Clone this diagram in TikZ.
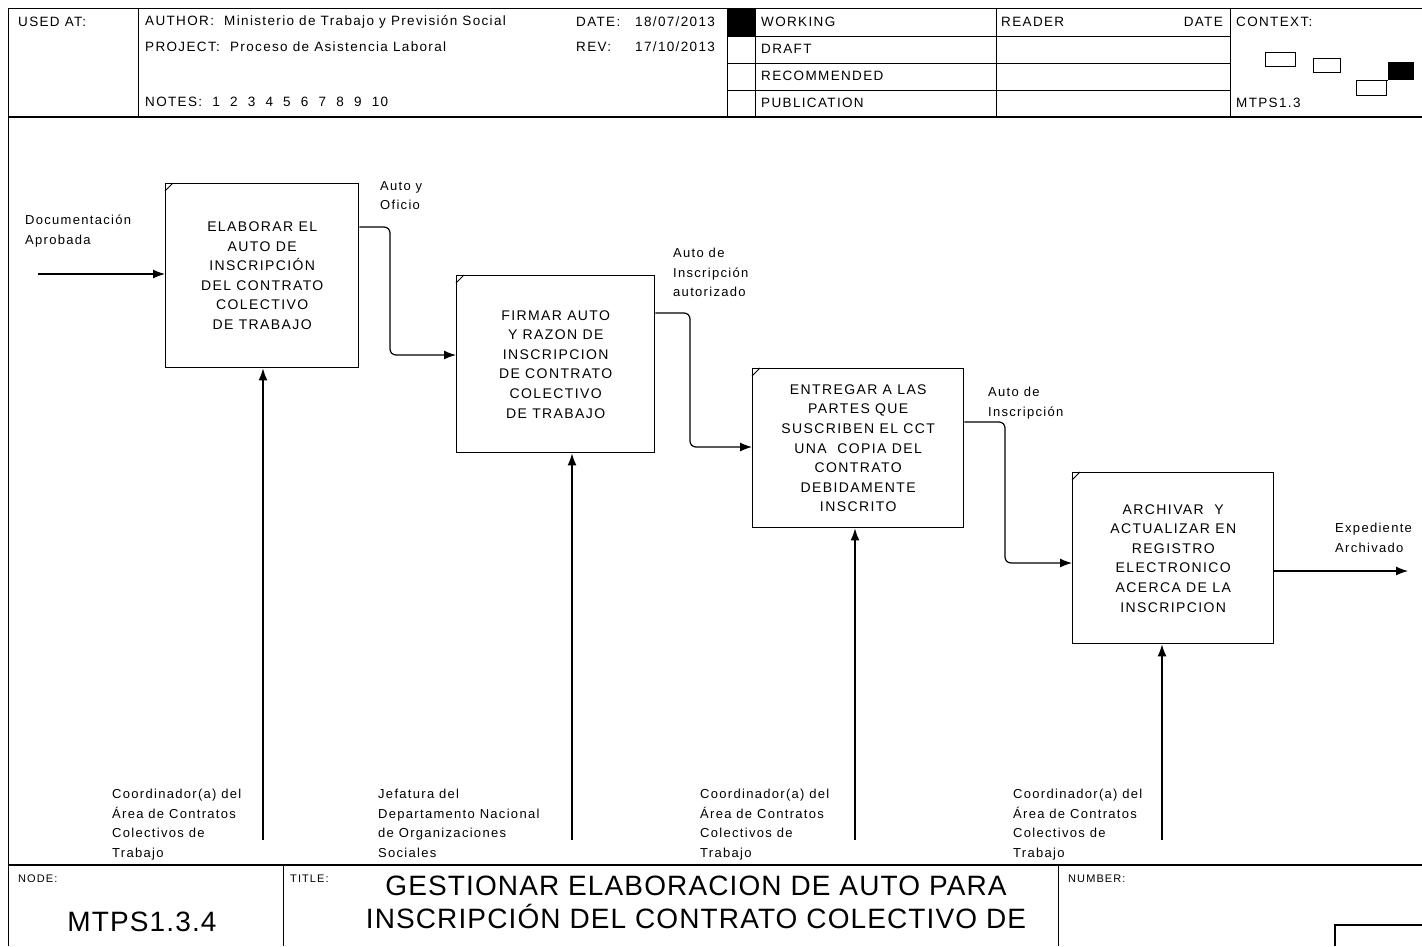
\documentclass[tikz,border=0pt]{standalone}
\usepackage{fontspec}
\setmainfont{Liberation Sans}
\newfontfamily\widesans{Liberation Sans}[LetterSpace=10]
\newfontfamily\titlesans{Liberation Sans}[LetterSpace=4]
\usetikzlibrary{arrows.meta,calc}

\begin{document}
\begin{tikzpicture}[x=1pt,y=-1pt,
  rule/.style={line width=0.9pt},
  heavy/.style={line width=1.8pt},
  hdr/.style={font=\widesans\fontsize{13.5}{16}\selectfont, inner sep=0, anchor=west},
  tiny/.style={font=\widesans\fontsize{11}{13}\selectfont, inner sep=0, anchor=north west},
  proc/.style={draw, line width=1.4pt, anchor=north west, align=center,
    inner sep=0, font=\widesans\fontsize{14}{19.6}\selectfont},
  lbl/.style={font=\widesans\fontsize{13}{19.5}\selectfont, align=left, inner sep=0, anchor=north west},
  flow/.style={line width=1.2pt, rounded corners=6pt, -{Latex[length=12pt,width=9pt]}},
  corner/.style={line width=0.8pt}
]
\useasboundingbox (0,0) rectangle (1422,946);

% ---------- header block ----------
\draw[rule] (1422,8) -- (8,8) -- (8,946);
\draw[heavy] (8,117) -- (1422,117);
\draw[rule] (138,8) -- (138,117);
\draw[rule] (727,8) -- (727,117);
\draw[rule] (755,8) -- (755,117);
\draw[rule] (996,8) -- (996,117);
\draw[rule] (1230,8) -- (1230,117);
\foreach \yy in {36,63,90} \draw[rule] (727,\yy) -- (1230,\yy);
\fill (727,8) rectangle (755,36);

\node[hdr] (usedat) at (18,22) {USED AT:};
\node[hdr] (author) at (145,22) {AUTHOR:\ \ Ministerio de Trabajo y Previsión Social};
\node[hdr] (project) at (145,47) {PROJECT:\ \ Proceso de Asistencia Laboral};
\node[hdr] (notes) at (145,102) {NOTES:\ \ 1\ \ 2\ \ 3\ \ 4\ \ 5\ \ 6\ \ 7\ \ 8\ \ 9\ \ 10};
\node[hdr] (datek) at (576,22) {DATE:};
\node[hdr] (datev) at (635,22) {18/07/2013};
\node[hdr] (revk) at (576,47) {REV:};
\node[hdr] (revv) at (635,47) {17/10/2013};
\node[hdr] (working) at (761,22) {WORKING};
\node[hdr] (draft) at (761,49) {DRAFT};
\node[hdr] (recom) at (761,76) {RECOMMENDED};
\node[hdr] (publ) at (761,103) {PUBLICATION};
\node[hdr] (reader) at (1001,22) {READER};
\node[hdr, anchor=east] (rdate) at (1223,22) {DATE};
\node[hdr] (context) at (1236,22) {CONTEXT:};
\node[hdr] (ctxnode) at (1236,103) {MTPS1.3};

% context sketch
\draw[line width=1pt] (1265,52) rectangle (1295,66);
\draw[line width=1pt] (1313,58) rectangle (1340,72);
\fill (1388,62) rectangle (1414,80);
\draw[line width=1pt] (1356,80) rectangle (1386,95);
\draw[line width=1pt] (1386,80) -- (1388,80);

% ---------- activity boxes ----------
\node[proc, minimum width=193pt, minimum height=184pt] (b1) at (165,183)
  {ELABORAR EL\\AUTO DE\\INSCRIPCIÓN\\DEL CONTRATO\\COLECTIVO\\DE TRABAJO};
\node[proc, minimum width=198pt, minimum height=177pt] (b2) at (456,275)
  {FIRMAR AUTO\\Y RAZON DE\\INSCRIPCION\\DE CONTRATO\\COLECTIVO\\DE TRABAJO};
\node[proc, minimum width=211pt, minimum height=159pt] (b3) at (752,368)
  {ENTREGAR A LAS\\PARTES QUE\\SUSCRIBEN EL CCT\\UNA\ \ COPIA DEL\\CONTRATO\\DEBIDAMENTE\\INSCRITO};
\node[proc, minimum width=201pt, minimum height=171pt] (b4) at (1072,472)
  {ARCHIVAR\ \ Y\\ACTUALIZAR EN\\REGISTRO\\ELECTRONICO\\ACERCA DE LA\\INSCRIPCION};

\foreach \b in {b1,b2,b3,b4}
  \draw[corner] ($(\b.north west)+(0,8)$) -- ($(\b.north west)+(8,0)$);

% ---------- inputs / outputs ----------
\coordinate (src) at (38,274);
\coordinate (sink) at (1408,571);
\draw[flow] (src) -- (b1.west |- src);
\draw[flow] (b1.east |- 0,227) -- (390,227) -- (390,355) -- (b2.west |- 0,355);
\draw[flow] (b2.east |- 0,313) -- (690,313) -- (690,447) -- (b3.west |- 0,447);
\draw[flow] (b3.east |- 0,422) -- (1005,422) -- (1005,563) -- (b4.west |- 0,563);
\draw[flow] (b4.east |- sink) -- (sink);

\node[lbl] (l0) at (25,215) {Documentación\\Aprobada};
\node[lbl] (l1) at (380,181) {Auto y\\Oficio};
\node[lbl] (l2) at (673,248) {Auto de\\Inscripción\\autorizado};
\node[lbl] (l3) at (988,387) {Auto de\\Inscripción};
\node[lbl] (l4) at (1335,523) {Expediente\\Archivado};

% ---------- mechanisms ----------
\coordinate (m1) at (263,840);
\coordinate (m2) at (572,840);
\coordinate (m3) at (855,840);
\coordinate (m4) at (1162,840);
\draw[flow] (m1) -- (b1.south -| m1);
\draw[flow] (m2) -- (b2.south -| m2);
\draw[flow] (m3) -- (b3.south -| m3);
\draw[flow] (m4) -- (b4.south -| m4);

\node[lbl] (r1) at (112,789) {Coordinador(a) del\\Área de Contratos\\Colectivos de\\Trabajo};
\node[lbl] (r2) at (378,789) {Jefatura del\\Departamento Nacional\\de Organizaciones\\Sociales};
\node[lbl] (r3) at (700,789) {Coordinador(a) del\\Área de Contratos\\Colectivos de\\Trabajo};
\node[lbl] (r4) at (1013,789) {Coordinador(a) del\\Área de Contratos\\Colectivos de\\Trabajo};

% ---------- footer block ----------
\draw[heavy] (8,865) -- (1422,865);
\draw[rule] (283,865) -- (283,946);
\draw[rule] (1058,865) -- (1058,946);
\draw[line width=1.4pt] (1335,946) -- (1335,925) -- (1422,925);

\node[tiny] (nodek) at (18,875) {NODE:};
\node[tiny] (titlek) at (290,875) {TITLE:};
\node[tiny] (numk) at (1068,875) {NUMBER:};
\node[font=\titlesans\fontsize{28}{30}\selectfont, inner sep=0] (nodeid) at (142,922) {MTPS1.3.4};
\node[font=\titlesans\fontsize{28}{33}\selectfont, inner sep=0, align=center, anchor=north] (title) at (696,876)
  {GESTIONAR ELABORACION DE AUTO PARA\\INSCRIPCIÓN DEL CONTRATO COLECTIVO DE};
\end{tikzpicture}
\end{document}
